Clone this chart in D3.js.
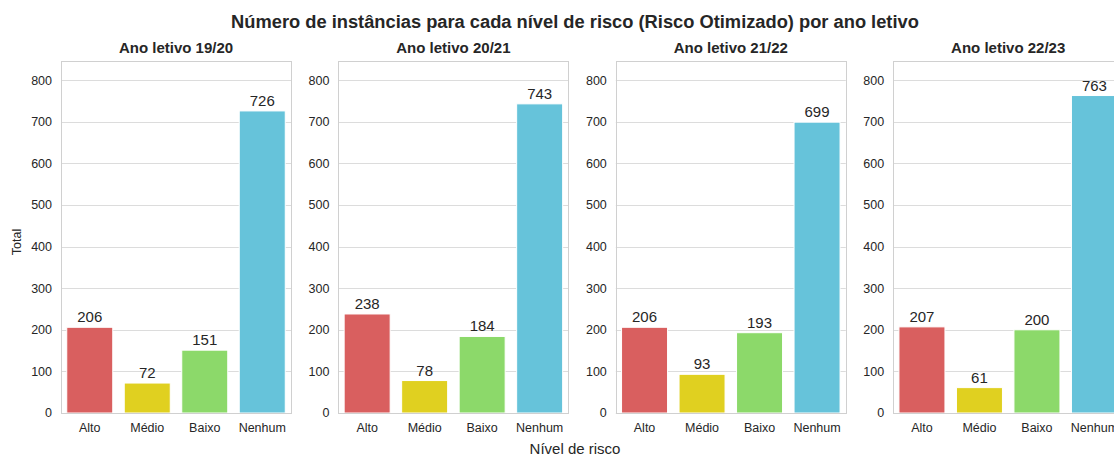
<!DOCTYPE html>
<html>
<head>
<meta charset="utf-8">
<script src="https://cdn.jsdelivr.net/npm/d3@7"></script>
<style>
  body { margin: 0; background: #fff; }
  text { font-family: "Liberation Sans", Arial, sans-serif; fill: #262626; }
</style>
</head>
<body>
<div id="chart"></div>
<script>
// Data.
var years = ["Ano letivo 19/20", "Ano letivo 20/21", "Ano letivo 21/22", "Ano letivo 22/23"];
var levels = ["Alto", "Médio", "Baixo", "Nenhum"];
var values = [
  [206, 72, 151, 726],
  [238, 78, 184, 743],
  [206, 93, 193, 699],
  [207, 61, 200, 763]
];
var yTicks = [0, 100, 200, 300, 400, 500, 600, 700, 800];
var levelColors = ["#d95f5f", "#e0d020", "#8cd96a", "#66c3da"];

// Layout.
var width = 1114,
    height = 457,
    panelLeft = 61,
    panelStep = 277.4,
    panelWidth = 230,
    plotTop = 61,
    plotBottom = 413,
    yMax = 846;

var svg = d3.select("#chart").append("svg")
  .attr("width", width)
  .attr("height", height);

var y = d3.scaleLinear().domain([0, yMax]).range([plotBottom, plotTop]);
var color = d3.scaleOrdinal().domain(levels).range(levelColors);

years.forEach(function (year, i) {
  var x0 = panelLeft + i * panelStep;
  var x = d3.scaleBand()
    .domain(levels)
    .range([x0, x0 + panelWidth])
    .paddingInner(0.2)
    .paddingOuter(0.1);

  var g = svg.append("g");

  // Horizontal grid lines.
  g.selectAll("line.grid")
    .data(yTicks)
    .enter().append("line")
      .attr("x1", x0)
      .attr("x2", x0 + panelWidth)
      .attr("y1", function (d) { return Math.round(y(d)) + 0.5; })
      .attr("y2", function (d) { return Math.round(y(d)) + 0.5; })
      .attr("stroke", "#dcdcdc")
      .attr("stroke-width", 1);

  // Bars.
  g.selectAll("rect.bar")
    .data(values[i])
    .enter().append("rect")
      .attr("x", function (d, j) { return x(levels[j]); })
      .attr("y", function (d) { return y(d); })
      .attr("width", x.bandwidth())
      .attr("height", function (d) { return y(0) - y(d); })
      .attr("fill", function (d, j) { return color(levels[j]); })
      .attr("stroke", "#fff")
      .attr("stroke-width", 1);

  // Value labels above bars.
  g.selectAll("text.value")
    .data(values[i])
    .enter().append("text")
      .attr("x", function (d, j) { return x(levels[j]) + x.bandwidth() / 2; })
      .attr("y", function (d) { return y(d) - 5; })
      .attr("text-anchor", "middle")
      .style("font-size", "15px")
      .text(function (d) { return d; });

  // Frame.
  g.append("rect")
    .attr("x", Math.round(x0) + 0.5)
    .attr("y", plotTop + 0.5)
    .attr("width", panelWidth)
    .attr("height", plotBottom - plotTop)
    .attr("fill", "none")
    .attr("stroke", "#d0d0d0")
    .attr("stroke-width", 1);

  // Y tick labels.
  g.selectAll("text.ytick")
    .data(yTicks)
    .enter().append("text")
      .attr("x", x0 - 9)
      .attr("y", function (d) { return y(d); })
      .attr("dy", "0.35em")
      .attr("text-anchor", "end")
      .style("font-size", "12.5px")
      .text(function (d) { return d; });

  // X tick labels.
  g.selectAll("text.xtick")
    .data(levels)
    .enter().append("text")
      .attr("x", function (d) { return x(d) + x.bandwidth() / 2; })
      .attr("y", plotBottom + 19)
      .attr("text-anchor", "middle")
      .style("font-size", "12.5px")
      .text(function (d) { return d; });

  // Subplot title.
  g.append("text")
    .attr("x", x0 + panelWidth / 2)
    .attr("y", 53)
    .attr("text-anchor", "middle")
    .style("font-size", "15px")
    .style("font-weight", "bold")
    .text(year);
});

// Shared labels.
svg.append("text")
  .attr("x", 575)
  .attr("y", 28)
  .attr("text-anchor", "middle")
  .style("font-size", "18.3px")
  .style("font-weight", "bold")
  .text("Número de instâncias para cada nível de risco (Risco Otimizado) por ano letivo");

svg.append("text")
  .attr("x", 575)
  .attr("y", 454)
  .attr("text-anchor", "middle")
  .style("font-size", "15px")
  .text("Nível de risco");

svg.append("text")
  .attr("transform", "translate(21,242) rotate(-90)")
  .attr("text-anchor", "middle")
  .style("font-size", "12.5px")
  .text("Total");
</script>
</body>
</html>
